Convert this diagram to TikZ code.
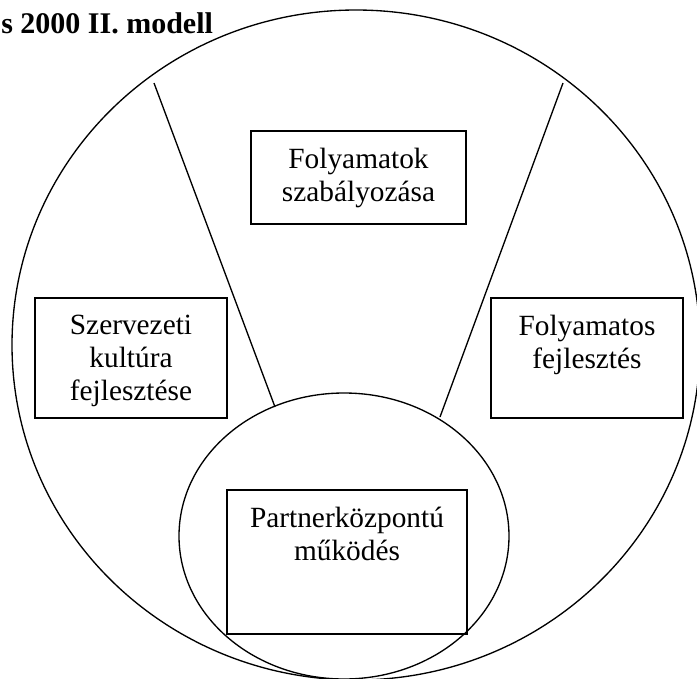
\documentclass[tikz,border=0pt]{standalone}
\usepackage{fontspec}
\setmainfont{Liberation Serif}
\usetikzlibrary{positioning,shapes.geometric}

\tikzset{
	box/.style={draw, line width=1pt, inner sep=0pt},
	boxtext/.style={align=center, inner sep=0pt, font=\fontsize{22}{24.75}\selectfont},
	oval/.style={draw, ellipse, line width=1pt, inner sep=0pt},
}

\begin{document}
\begin{tikzpicture}[x=0.75pt, y=-0.75pt]
				\useasboundingbox (0,0) rectangle (697,679);
				\node[anchor=base west, inner sep=0pt, font=\fontsize{22.5}{26}\selectfont\bfseries] (title) at (1,33) {s 2000 II. modell};
				\node[oval, minimum width=516pt, minimum height=502.5pt] (whole) at (356,345) {};
				\node[oval, minimum width=247.5pt, minimum height=214.5pt] (core) at (344,536) {};
				\coordinate (lt) at (154,83);
				\coordinate (lb) at (275,407);
				\coordinate (rt) at (563,83);
				\coordinate (rb) at (440,417);
				\draw[line width=1pt] (lt) -- (lb); %left
				\draw[line width=1pt] (rt) -- (rb); %right
				\node[box, minimum width=161.25pt, minimum height=69.75pt] (rules) at (358.5,177.5) {};
				\node[box, minimum width=144pt, minimum height=90pt] (culture) at (131,358) {};
				\node[box, minimum width=144pt, minimum height=90pt] (improve) at (587,358) {};
				\node[box, minimum width=180pt, minimum height=108pt] (partner) at (347,562) {};
				\node[boxtext, below=13pt of rules.north] (rulestext) {Folyamatok\\szabályozása};
				\node[boxtext, below=13pt of culture.north] (culturetext) {Szervezeti\\kultúra\\fejlesztése};
				\node[boxtext, below=13pt of improve.north] (improvetext) {Folyamatos\\fejlesztés};
				\node[boxtext, below=13pt of partner.north] (partnertext) {Partnerközpontú\\működés};
\end{tikzpicture}
\end{document}
